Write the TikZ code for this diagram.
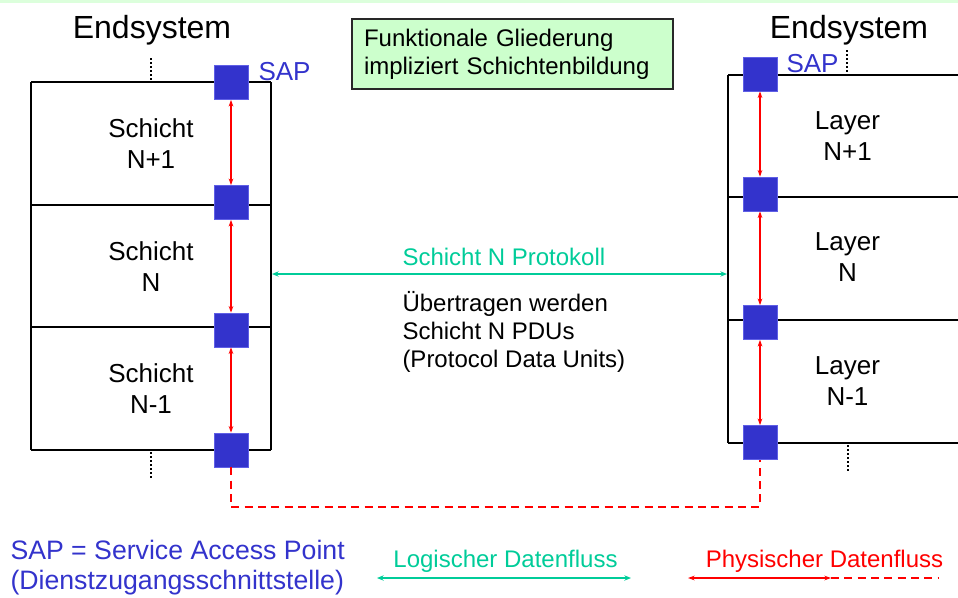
\documentclass[tikz,border=0pt]{standalone}
\usepackage{fontspec}
\setmainfont{Liberation Sans}
\usetikzlibrary{arrows.meta}

\tikzset{every picture/.style={line width=0.75pt}}
\tikzset{
  frame/.style={line width=2pt},
  sep/.style={line width=1pt},
  dots/.style={line width=1.5pt, dash pattern=on 1.5pt off 1.5pt},
  sap/.style={draw={rgb,255:red,95;green,95;blue,230}, fill={rgb,255:red,51;green,51;blue,204}, line width=0.5pt, minimum size=25.5pt, inner sep=0pt},
  phys/.style={color=red, line width=1.1pt, arrows={Stealth[length=5pt,width=3.5pt]-Stealth[length=5pt,width=3.5pt]}},
  physdash/.style={color=red, line width=1.5pt, dash pattern=on 6pt off 4pt},
  logic/.style={color={rgb,255:red,0;green,204;blue,153}, line width=1.5pt, arrows={Stealth[length=5pt,width=4pt]-Stealth[length=5pt,width=4pt]}},
  title/.style={font=\fontsize{24}{28}\selectfont},
  layertext/.style={align=center, font=\fontsize{19.5}{23.3}\selectfont, inner sep=0pt},
  saptext/.style={text={rgb,255:red,51;green,51;blue,204}, font=\fontsize{19.5}{23}\selectfont, inner sep=0pt},
  gbox/.style={draw={rgb,255:red,40;green,40;blue,40}, fill={rgb,255:red,204;green,255;blue,204}, line width=1.5pt, align=left, text width=222.75pt, inner xsep=9pt, minimum height=52.5pt, font=\fontsize{18}{21}\selectfont},
  note/.style={align=left, font=\fontsize{18}{21}\selectfont, inner sep=0pt}
}

\begin{document}
\begin{tikzpicture}[x=0.75pt,y=0.75pt,yscale=-1,xscale=1]
\useasboundingbox (0,0) rectangle (958,597);

% Top band
\fill[color={rgb,255:red,220;green,255;blue,220}] (0,0) rectangle (958,3);

%Left end system
\draw[frame] (31,82) -- (31,450);
\draw[frame] (271,82) -- (271,450);
\foreach \y in {82,205,327,450} \draw[sep] (31,\y) -- (271,\y);
\draw[dots] (151,58) -- (151,80);
\draw[dots] (151,452) -- (151,480);

%Right end system
\draw[frame] (728,75) -- (728,443);
\foreach \y in {75,197,320,443} \draw[sep] (728,\y) -- (958,\y);
\draw[dots] (847,50) -- (847,73);
\draw[dots] (848,445) -- (848,472);

% SAPs
\node[sap] (sl1) at (231,82.5) {};
\node[sap] (sl2) at (231,202.5) {};
\node[sap] (sl3) at (231,330) {};
\node[sap] (sl4) at (231,450) {};
\node[sap] (sr1) at (760,74) {};
\node[sap] (sr2) at (760,194) {};
\node[sap] (sr3) at (760,322.5) {};
\node[sap] (sr4) at (760,442.5) {};

%Straight Lines
\draw[phys] (sl1) -- (sl2);
\draw[phys] (sl2) -- (sl3);
\draw[phys] (sl3) -- (sl4);
\draw[phys] (sr1) -- (sr2);
\draw[phys] (sr2) -- (sr3);
\draw[phys] (sr3) -- (sr4);

% Physical path
\coordinate (pz) at (500,507);
\draw[physdash] (sl4.south) |- (pz) -| (sr4.south);

% Protocol line
\coordinate (pl) at (272,274);
\coordinate (pr) at (727,274);
\draw[logic] (pl) -- (pr);

% Text Node
\node[title, anchor=base] (esl) at (152,38) {Endsystem};
% Text Node
\node[title, anchor=base] (esr) at (849,38) {Endsystem};
% Text Node
\node[saptext, anchor=base west] (sapl) at (258,80) {SAP};
% Text Node
\node[saptext, anchor=base west] (sapr) at (786,72) {SAP};
% Text Node
\node[gbox, anchor=north west] (glied) at (351,18) {Funktionale Gliederung\\impliziert Schichtenbildung};

% Text Node
\node[layertext] (l1) at (151,144) {Schicht\\N+1};
\node[layertext] (l2) at (151,266.5) {Schicht\\N};
\node[layertext] (l3) at (151,389) {Schicht\\N-1};
% Text Node
\node[layertext] (r1) at (847.5,136.5) {Layer\\N+1};
\node[layertext] (r2) at (847.5,257.5) {Layer\\N};
\node[layertext] (r3) at (847.5,381) {Layer\\N-1};

% Text Node
\node[note, anchor=base west, text={rgb,255:red,0;green,204;blue,153}] (prot) at (402,265) {Schicht N Protokoll};
% Text Node
\node[note, anchor=west] (pdu) at (402,332) {Übertragen werden\\Schicht N PDUs\\(Protocol Data Units)};

% Legend
\node[saptext, align=left, font=\fontsize{20}{22.5}\selectfont, anchor=west] (leg) at (10,568) {SAP = Service Access Point\\(Dienstzugangsschnittstelle)};
% Text Node
\node[note, anchor=base, text={rgb,255:red,0;green,204;blue,153}] (lglog) at (505.5,567) {Logischer Datenfluss};
\coordinate (lg1) at (377,578);
\coordinate (lg2) at (631,578);
\draw[logic] (lg1) -- (lg2);
% Text Node
\node[note, anchor=base, text=red] (lgphys) at (824.5,567) {Physischer Datenfluss};
\coordinate (ph1) at (688,578);
\coordinate (ph2) at (831,578);
\coordinate (ph3) at (938,578);
\draw[phys, line width=1.5pt] (ph1) -- (ph2);
\draw[physdash] (ph2) -- (ph3);

\end{tikzpicture}
\end{document}
